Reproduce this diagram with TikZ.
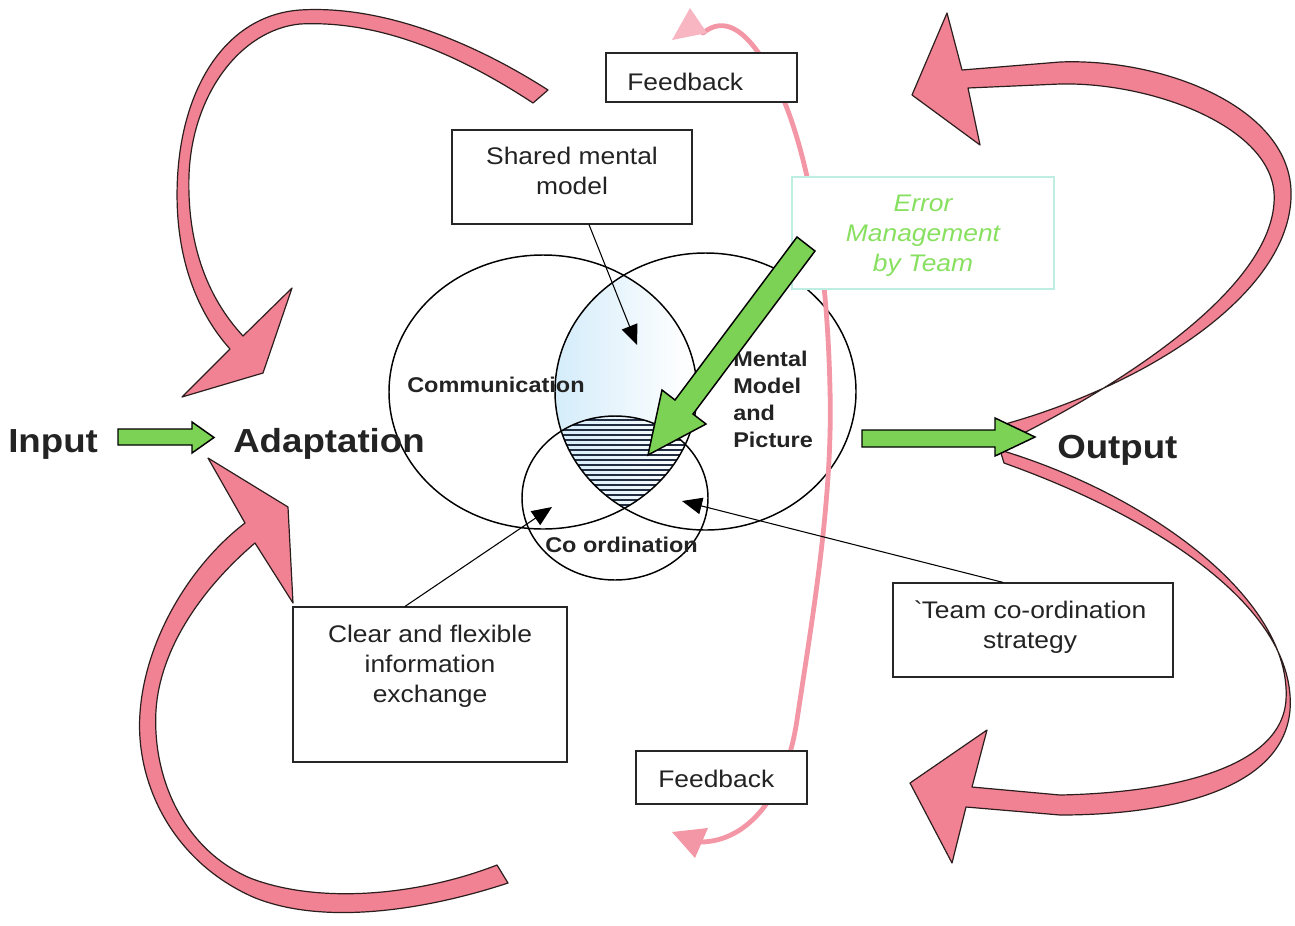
\documentclass[tikz,border=0pt]{standalone}
\usepackage{fontspec}
\setmainfont{Liberation Sans}[FakeStretch=1.1]
\usetikzlibrary{arrows.meta}

\definecolor{ribbon}{RGB}{240,130,148}
\definecolor{ribbonedge}{RGB}{45,30,30}
\definecolor{leaf}{RGB}{124,210,84}
\definecolor{errtext}{RGB}{136,224,96}
\definecolor{errframe}{RGB}{190,238,225}
\definecolor{fbline}{RGB}{243,150,165}
\definecolor{fbhead}{RGB}{247,182,194}
\definecolor{lens}{RGB}{212,236,250}
\definecolor{hatchink}{RGB}{35,45,65}
\definecolor{ink}{RGB}{35,35,35}

\begin{document}
\begin{tikzpicture}[x=0.75pt,y=-0.75pt,
  ribbonarrow/.style={fill=ribbon, draw=ribbonedge, line width=0.9pt, line join=round},
  blockarrow/.style={fill=leaf, draw=black, line width=1.1pt, line join=miter},
  textbox/.style={draw=black!85, line width=0.9pt, fill=white, inner sep=0pt},
  boxtext/.style={inner sep=0pt, text=ink, font=\fontsize{18}{22.5}\selectfont, align=center},
  bigword/.style={inner sep=0pt, anchor=base west, text=ink, font=\fontsize{25}{30}\selectfont\bfseries},
  setword/.style={inner sep=0pt, text=ink, font=\fontsize{16}{20.25}\selectfont\bfseries},
  setline/.style={draw=black, line width=1.1pt},
  pointer/.style={draw=black, line width=0.8pt, -{Triangle[length=15pt,width=12.5pt]}},
]
\useasboundingbox (0,0) rectangle (1295,925);

% ---------- overlapping sets ----------
\def\commset{(543,392) ellipse [x radius=154, y radius=137]}
\def\mentset{(705.5,391.5) ellipse [x radius=150.5, y radius=138.5]}
\def\coordset{(615,498) ellipse [x radius=93, y radius=82]}

% shared area of communication and mental model
\begin{scope}
  \clip \commset;
  \clip \mentset;
  \shade[left color=lens, right color=white] (555,250) rectangle (690,535);
\end{scope}
% hatched core where all three sets meet
\begin{scope}
  \clip \commset;
  \clip \mentset;
  \clip \coordset;
  \foreach \yy in {420,425,...,515}
    \draw[hatchink, line width=1.3pt] (540,\yy) -- (720,\yy);
\end{scope}

\draw[setline] \commset;
\draw[setline] \mentset;
\draw[setline] \coordset;

% ---------- feedback loop ----------
\draw[fbline, line width=3.6pt, line cap=round]
  (700,842) .. controls (745,842) and (785,800) .. (797,720)
  .. controls (812,620) and (833,500) .. (830,390)
  .. controls (827,250) and (805,120) .. (760,55)
  .. controls (745,33) and (725,15) .. (703,33);
\fill[fbhead] (690,8) -- (672,40) -- (707,33) -- cycle;
\fill[fbline] (672,832) -- (708,828) -- (695,858) -- cycle;

% ---------- boxes ----------
\node[textbox, minimum width=143.25pt, minimum height=36.75pt] (fbtop) at (701.5,77.5) {};
\node[textbox, minimum width=180pt, minimum height=70.5pt] (shared) at (572,177) {};
\node[textbox, draw=errframe, minimum width=196.5pt, minimum height=84pt] (errbox) at (923,233) {};
\node[textbox, minimum width=205.5pt, minimum height=116.25pt] (clear) at (430,684.5) {};
\node[textbox, minimum width=210pt, minimum height=70.5pt] (team) at (1033,630) {};
\node[textbox, minimum width=128.25pt, minimum height=39.75pt] (fbbot) at (721.5,777.5) {};

\node[boxtext, anchor=base west] (fbtoptxt) at (627,90) {Feedback};
\node[boxtext, anchor=north] (sharedtxt) at (572,147) {Shared mental\\model};
\node[boxtext, anchor=north, text=errtext, font=\fontsize{18}{22.5}\selectfont\itshape] (errtxt) at (923,195) {Error\\Management\\by Team};
\node[boxtext, anchor=north] (cleartxt) at (430,625) {Clear and flexible\\information\\exchange};
\node[boxtext, anchor=north] (teamtxt) at (1030,601) {\textasciigrave Team co-ordination\\strategy};
\node[boxtext, anchor=base west] (fbbottxt) at (658,787) {Feedback};

% ---------- set labels ----------
\node[setword, anchor=base west] (commtxt) at (407,392) {Communication};
\node[setword, anchor=north west, align=left] (menttxt) at (733,351) {Mental\\Model\\and\\Picture};
\node[setword, anchor=base west] (coordtxt) at (545,552) {Co ordination};

% ---------- pointers from boxes into the sets ----------
\coordinate (tipshared) at (637,345);
\coordinate (tipclear) at (552,507);
\coordinate (tipteam) at (682,501);
\draw[pointer] ([xshift=12.75pt]shared.south) -- (tipshared);
\draw[pointer] ([xshift=-18.75pt]clear.north) -- (tipclear);
\draw[pointer] ([xshift=-22.5pt]team.north) -- (tipteam);

% ---------- curved ribbon arrows ----------
% upper left, into Adaptation
\filldraw[ribbonarrow]
  (548,90) .. controls (470,40) and (380,5) .. (300,10)
  .. controls (230,15) and (185,80) .. (178,170)
  .. controls (172,250) and (195,310) .. (230,349)
  -- (182,397) -- (263,373) -- (292,288) -- (243,336)
  .. controls (205,295) and (187,240) .. (189,175)
  .. controls (192,95) and (240,30) .. (300,24)
  .. controls (380,20) and (460,55) .. (533,103) -- cycle;
% lower left, into Adaptation
\filldraw[ribbonarrow]
  (508,883) .. controls (420,912) and (320,925) .. (253,897)
  .. controls (170,860) and (135,780) .. (140,713)
  .. controls (145,640) and (190,565) .. (245,523)
  -- (208,458) -- (288,507) -- (293,603) -- (255,543)
  .. controls (200,590) and (160,650) .. (156,710)
  .. controls (152,780) and (185,850) .. (250,878)
  .. controls (320,905) and (420,895) .. (497,865) -- cycle;
% upper right, out of Output
\filldraw[ribbonarrow]
  (998,426) .. controls (1150,385) and (1295,290) .. (1291,190)
  .. controls (1287,105) and (1160,58) .. (1060,62)
  -- (962,70) -- (947,13) -- (912,95) -- (980,145) -- (968,88)
  -- (1060,84) .. controls (1150,82) and (1268,125) .. (1274,192)
  .. controls (1280,275) and (1150,370) .. (1010,440) -- cycle;
% lower right, out of Output
\filldraw[ribbonarrow]
  (1000,450) .. controls (1150,495) and (1292,600) .. (1286,700)
  .. controls (1281,772) and (1160,793) .. (1060,795)
  -- (972,787) -- (987,730) -- (910,783) -- (952,863) -- (966,807)
  -- (1060,815) .. controls (1180,815) and (1297,785) .. (1290,695)
  .. controls (1283,600) and (1150,515) .. (1004,463) -- cycle;

% ---------- green block arrows ----------
\filldraw[blockarrow] (118,429) -- (192,429) -- (192,422) -- (214,437.5)
  -- (192,453) -- (192,445) -- (118,445) -- cycle;
\filldraw[blockarrow] (862,430) -- (995,430) -- (995,418) -- (1035,437)
  -- (995,456) -- (995,447) -- (862,447) -- cycle;
\filldraw[blockarrow] (797,237) -- (675,400) -- (662,390) -- (648,455)
  -- (706,424) -- (693,414) -- (815,251) -- cycle;

% ---------- main words ----------
\node[bigword] (input) at (8,452) {Input};
\node[bigword] (adapt) at (233,452) {Adaptation};
\node[bigword] (output) at (1057,458) {Output};
\end{tikzpicture}
\end{document}
